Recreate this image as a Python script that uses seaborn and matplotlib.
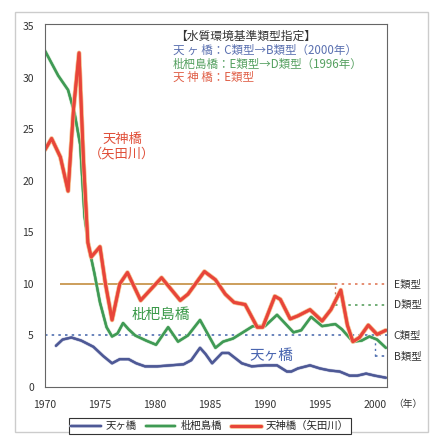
import numpy as np
import pandas as pd
import seaborn as sns
import matplotlib.pyplot as plt
import matplotlib.patheffects as pe
from matplotlib.patches import Rectangle

# readings of the three monitoring points (year, BOD mg/L)
tenjin_years = [1970.0, 1970.6, 1971.4, 1972.1, 1972.6, 1973.1, 1973.5, 1973.9, 1974.2, 1975.0,
                1975.5, 1976.1, 1976.8, 1977.5, 1978.7, 1980.6, 1982.3, 1983.0, 1984.5, 1985.5,
                1986.4, 1987.2, 1988.2, 1989.3, 1989.8, 1990.9, 1991.4, 1992.3, 1993.0, 1994.1,
                1995.2, 1996.0, 1996.9, 1997.5, 1998.0, 1998.6, 1999.4, 2000.2, 2001.0]
tenjin_vals = [23.0, 24.1, 22.3, 19.0, 27.0, 32.4, 22.0, 14.0, 12.6, 13.6,
               10.0, 6.5, 10.0, 11.1, 8.4, 10.6, 8.4, 9.0, 11.2, 10.4,
               9.0, 8.2, 8.0, 5.8, 5.8, 8.8, 8.5, 6.6, 6.9, 7.5,
               6.4, 7.5, 9.4, 6.0, 4.4, 4.8, 6.0, 5.1, 5.5]

biwa_years = [1970.0, 1971.2, 1972.1, 1972.7, 1973.2, 1973.6, 1974.0, 1974.5, 1975.0, 1975.6,
              1976.1, 1976.6, 1977.1, 1977.6, 1978.2, 1979.2, 1980.1, 1981.2, 1982.1, 1983.0,
              1984.1, 1985.5, 1986.2, 1987.1, 1988.0, 1988.9, 1990.0, 1991.1, 1992.6, 1993.3,
              1994.2, 1995.2, 1996.4, 1997.0, 1998.0, 1998.8, 1999.5, 2000.2, 2001.0]
biwa_vals = [32.6, 30.2, 28.8, 26.5, 23.5, 16.5, 13.5, 11.0, 8.2, 5.8,
             4.9, 5.2, 6.2, 5.6, 5.0, 4.5, 4.1, 5.8, 4.4, 5.0,
             6.5, 3.8, 4.4, 4.7, 5.3, 5.9, 5.9, 7.0, 5.3, 5.5,
             6.8, 5.9, 6.1, 5.6, 4.4, 4.5, 4.9, 4.6, 3.8]

amaga_years = [1971.0, 1971.6, 1972.4, 1973.3, 1974.4, 1975.3, 1976.1, 1976.8, 1977.6, 1978.3,
               1979.1, 1980.2, 1981.4, 1982.6, 1983.3, 1984.1, 1984.6, 1985.2, 1986.1, 1986.7,
               1987.3, 1987.9, 1988.8, 1990.0, 1991.1, 1992.0, 1992.4, 1993.0, 1994.1, 1995.0,
               1995.9, 1996.8, 1997.7, 1998.4, 1999.2, 2000.0, 2001.0]
amaga_vals = [4.0, 4.6, 4.8, 4.5, 3.9, 3.0, 2.3, 2.7, 2.7, 2.3,
              2.0, 2.0, 2.1, 2.2, 2.6, 3.8, 3.2, 2.3, 3.3, 3.3,
              2.8, 2.3, 2.0, 2.1, 2.1, 1.5, 1.5, 1.8, 2.1, 1.8,
              1.6, 1.5, 1.1, 1.1, 1.3, 1.1, 0.9]

# environmental standard classes
class_names = ['E類型', 'D類型', 'C類型', 'B類型']
class_levels = [10, 8, 5, 3]
biwa_change_year = 1996.4
amaga_change_year = 2000.0

series_labels = ['天ヶ橋', '枇杷島橋', '天神橋（矢田川）']
blue, green, red = '#4e5996', '#3f9a55', '#e8453a'

sns.set_style('white')
plt.rcParams['font.family'] = ['Noto Sans CJK JP', 'DejaVu Sans']

fig = plt.figure(figsize=(4.35, 4.37), dpi=100)
ax = fig.add_axes([0.1034, 0.1144, 0.7862, 0.8307])

x0, x1 = 1970.0, 2001.1

# standard lines
dots = (0, (1.5, 2.5))
ax.hlines(class_levels[0], 1971.4, biwa_change_year, color='#c8964e', lw=1.3, zorder=1)
ax.hlines(class_levels[0], biwa_change_year, x1, color='#e07a5a', lw=1.2, ls=dots, zorder=1)
ax.hlines(class_levels[1], biwa_change_year, x1, color='#5aa060', lw=1.2, ls=dots, zorder=1)
ax.vlines(biwa_change_year, class_levels[1], class_levels[0], color='#c87a5a', lw=1.0, ls=dots, zorder=1)
ax.hlines(class_levels[2], x0, x1, color='#5070b0', lw=1.2, ls=dots, zorder=1)
ax.hlines(class_levels[3], amaga_change_year, x1, color='#5070b0', lw=1.2, ls=dots, zorder=1)
ax.vlines(amaga_change_year, class_levels[3], class_levels[2], color='#5070b0', lw=1.0, ls=dots, zorder=1)

sns.lineplot(x=amaga_years, y=amaga_vals, ax=ax, color=blue, lw=1.6, label=series_labels[0], sort=False,
             path_effects=[pe.withStroke(linewidth=2.6, foreground='#c8cce0'), pe.Normal()])
sns.lineplot(x=biwa_years, y=biwa_vals, ax=ax, color=green, lw=1.6, label=series_labels[1], sort=False,
             path_effects=[pe.withStroke(linewidth=2.6, foreground='#c0e0c0'), pe.Normal()])
sns.lineplot(x=tenjin_years, y=tenjin_vals, ax=ax, color=red, lw=2.0, label=series_labels[2], sort=False,
             path_effects=[pe.withStroke(linewidth=3.3, foreground='#f4b888'), pe.Normal()])

ax.set_xlim(x0, x1)
ax.set_ylim(0, 35.2)
ax.set_xticks([1970, 1975, 1980, 1985, 1990, 1995, 2000])
ax.set_yticks([0, 5, 10, 15, 20, 25, 30, 35])
ax.tick_params(direction='in', length=3, width=0.8, labelsize=7.5, colors='#333333')
ax.tick_params(axis='x', pad=9)
ax.tick_params(axis='y', pad=8)
ax.set_xlabel('')
ax.set_ylabel('')
for s in ax.spines.values():
    s.set_color('#666666')
    s.set_linewidth(0.8)
ax.text(1.018, -0.047, '（年）', transform=ax.transAxes, fontsize=7, color='#333333', va='center', ha='left')

# class labels on the right
for name, lvl in zip(class_names, class_levels):
    ax.text(1.02, lvl, name, transform=ax.get_yaxis_transform(), fontsize=7.5, color='#333333',
            va='center', ha='left')

# series labels inside the plot
ax.text(1977.0, 23.3, '天神橋\n（矢田川）', color='#e0503a', fontsize=9.5, ha='center', va='center', linespacing=1.15)
ax.text(1980.5, 7.0, '枇杷島橋', color='#3c9a4a', fontsize=10.5, ha='center', va='center')
ax.text(1990.6, 3.0, '天ヶ橋', color='#4a66b0', fontsize=10.5, ha='center', va='center')

# class designation block
ax.text(1981.8, 34.0, '【水質環境基準類型指定】', fontsize=8.5, color='#333333', ha='left', va='center')
ax.text(1981.6, 32.6, '天 ヶ 橋：C類型→B類型（2000年）', fontsize=8.3, color='#5a70b0', ha='left', va='center')
ax.text(1981.6, 31.3, '枇杷島橋：E類型→D類型（1996年）', fontsize=8.3, color='#55a060', ha='left', va='center')
ax.text(1981.6, 30.0, '天 神 橋：E類型', fontsize=8.3, color='#e06048', ha='left', va='center')

handles, labels = ax.get_legend_handles_labels()
ax.legend_.remove()
leg = fig.legend(handles, labels, loc='center', bbox_to_anchor=(0.483, 0.025), ncol=3, fontsize=7.5,
                 frameon=True, fancybox=False, edgecolor='#333333', framealpha=1,
                 handlelength=2.8, columnspacing=0.9, handletextpad=0.5, borderpad=0.25)
leg.get_frame().set_linewidth(0.8)

fig.patches.append(Rectangle((0.0345, 0.0114), 0.9495, 0.961, transform=fig.transFigure,
                             fill=False, edgecolor='#cccccc', lw=1.0))

fig.savefig('out.png', dpi=100)
